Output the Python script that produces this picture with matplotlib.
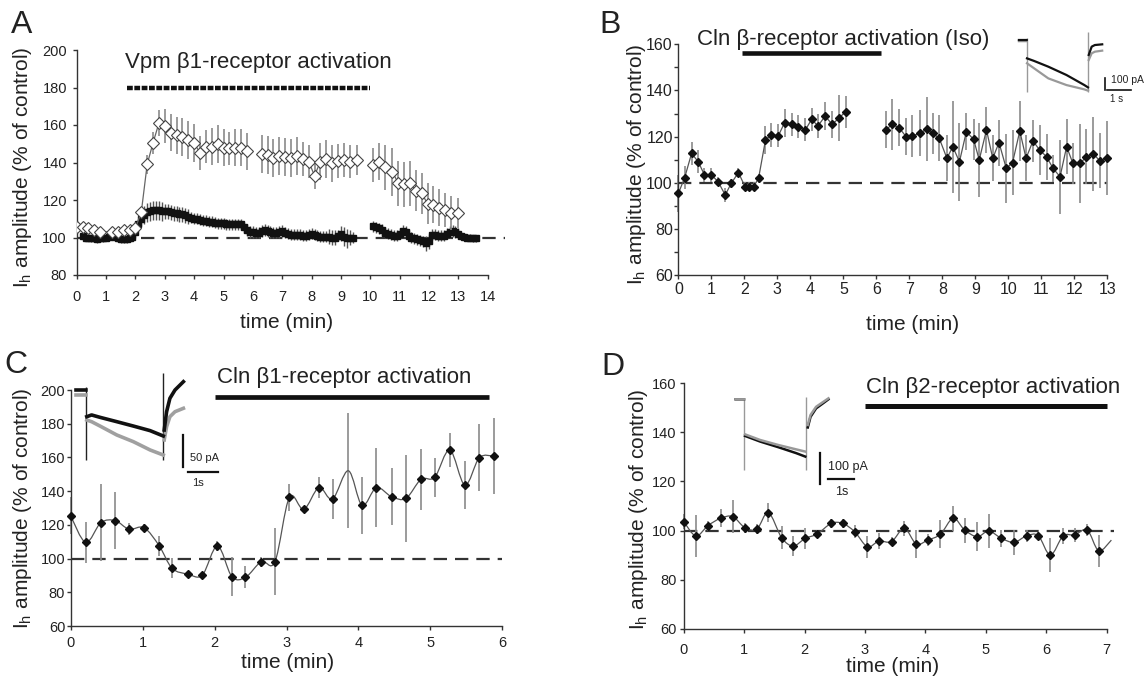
import numpy as np
import matplotlib.pyplot as plt
from matplotlib.path import Path
from matplotlib.patches import PathPatch

plt.rcParams['font.family'] = ['Liberation Sans', 'DejaVu Sans']
plt.rcParams['mathtext.fontset'] = 'custom'
plt.rcParams['mathtext.rm'] = 'Liberation Sans'
plt.rcParams['mathtext.it'] = 'Liberation Sans:italic'

W, H = 1145, 681
nan = np.nan

# ---------------- panel A : Vpm, beta1 activation ----------------
A_open_t = [0.0, 0.2, 0.4, 0.6, 0.8, 1.2, 1.4, 1.6, 1.8, 2.0, 2.2, 2.4, 2.6, 2.8, 3.0,
            3.2, 3.4, 3.6, 3.8, 4.0, 4.2, 4.4, 4.6, 4.8, 5.0, 5.2, 5.4, 5.6, 5.8, 6.05,
            6.3, 6.5, 6.7, 6.9, 7.1, 7.3, 7.5, 7.7, 7.9, 8.1, 8.3, 8.5, 8.7, 8.9, 9.1,
            9.3, 9.55, 9.8, 10.1, 10.3, 10.5, 10.75, 10.95, 11.15, 11.35, 11.55, 11.75,
            11.95, 12.15, 12.35, 12.55, 12.75, 13.0]
A_open_v = [105.5, 105.5, 105, 104, 103, 103, 103, 104, 104, 105, 113.5, 139, 150.5, 161, 159.5,
            156, 154.5, 153.5, 152, 150.5, 145, 148.5, 148.5, 150, 148, 147.5, 148, 148, 146, nan,
            144.5, 144, 142.5, 143.5, 143, 142.5, 143.5, 142, 140.5, 133, 140.5, 142, 139.5, 141, 141.5,
            140.5, 141.5, nan, 138.5, 140.5, 137.5, 135, 129, 128.5, 129, 125, 123.5,
            118, 117.5, 116, 114.5, 113, 113]
A_open_e = [1.5, 1.5, 1.5, 1.5, 1.5, 1.5, 1.5, 1.5, 1.5, 1.5, 3, 5, 6, 7, 9,
            10, 10, 10, 10, 10, 9, 9, 10, 10, 10, 9, 10, 10, 10, nan,
            10, 10, 10, 10, 10, 10, 10, 9, 9, 7, 10, 10, 10, 9, 9,
            9, 8, nan, 9, 10, 12, 13, 12, 12, 12, 11, 11,
            11, 10, 10, 9, 9, 8]

A_sq_t1 = [0.2, 0.3, 0.4, 0.5, 0.6, 0.7, 0.8, 0.9, 1.0, 1.1, 1.2, 1.3, 1.4, 1.5, 1.6, 1.7,
           1.8, 1.9, 2.0, 2.1, 2.2, 2.3, 2.4, 2.5, 2.6, 2.7, 2.8, 2.9, 3.0, 3.1, 3.2, 3.3,
           3.4, 3.5, 3.6, 3.7, 3.8, 3.9, 4.0, 4.1, 4.2, 4.3, 4.4, 4.5, 4.6, 4.7, 4.8, 4.9,
           5.0, 5.1, 5.2, 5.3, 5.4, 5.5, 5.6, 5.7, 5.8, 5.9, 6.0, 6.1, 6.2, 6.3, 6.4, 6.5,
           6.6, 6.7, 6.8, 6.9, 7.0, 7.1, 7.2, 7.3, 7.4, 7.5, 7.6, 7.7, 7.8, 7.9, 8.0, 8.1,
           8.2, 8.3, 8.4, 8.5, 8.6, 8.7, 8.8, 8.9, 9.0, 9.1, 9.2, 9.3, 9.4]
A_sq_v1 = [101, 100, 100, 99.5, 99.5, 99, 99.5, 99.5, 100, 100.5,
           101, 100.5, 99.5, 99, 99, 99, 99.5, 100.5, 103, 107,
           110, 112, 113.5, 114, 114.5, 114.5, 114.5, 114, 114, 114,
           113.5, 113, 113, 112.5, 112.5, 112, 111, 110.5, 110, 110,
           109.5, 109, 109, 108.5, 108.5, 108, 107.5, 107.5, 107.5, 107,
           107, 107, 107, 107, 107, 105.5, 104, 103, 103, 102.5,
           102.5, 103.5, 104, 103.5, 103, 102.5, 102.5, 103, 103.5, 102.5,
           102, 101.5, 101.5, 101.5, 101.5, 101, 101, 101.5, 102, 101.5,
           101, 100.5, 100.5, 100.5, 100.5, 100, 100, 101, 102, 100.5,
           99.5, 100, 100]
A_sq_e1 = [2, 2, 2, 2, 2, 2, 2, 2, 2, 2,
           2, 2, 2, 2, 2, 2, 2, 2, 3, 3,
           4, 5, 5, 5, 5, 5, 5, 5, 4, 4,
           4, 4, 4, 4, 4, 4, 4, 3, 3, 3,
           3, 3, 3, 3, 3, 3, 3, 3, 3, 3,
           3, 3, 3, 3, 3, 3, 3, 3, 3, 3,
           3, 3, 3, 3, 3, 3, 3, 3, 3, 3,
           3, 3, 3, 3, 3, 3, 3, 3, 3, 3,
           3, 3, 3, 3, 4, 4, 4, 3, 4, 5,
           5, 4, 3]
A_sq_t2 = [10.1, 10.2, 10.3, 10.4, 10.5, 10.6, 10.7, 10.8, 10.9, 11.0, 11.1, 11.2,
           11.3, 11.4, 11.5, 11.6, 11.7, 11.8, 11.9, 12.0, 12.1, 12.2, 12.3, 12.4,
           12.5, 12.6, 12.7, 12.8, 12.9, 13.0, 13.1, 13.2, 13.3, 13.4, 13.5, 13.6]
A_sq_v2 = [106, 105.5, 105, 104, 102.5, 102, 101.5, 101, 101, 102,
           103.5, 103, 101, 100, 99.5, 99, 98.5, 98, 97, 98,
           101.5, 101.5, 101, 101, 101, 102, 103, 103.5, 103, 102,
           101, 100.5, 100, 100, 99.5, 99.5]
A_sq_e2 = [3, 3, 3, 3, 3, 3, 3, 3, 3, 3,
           3, 3, 3, 3, 3, 3, 3, 3, 4, 4,
           3, 3, 3, 3, 3, 3, 3, 3, 3, 3,
           2, 2, 2, 2, 2, 2]
A_drug = (1.7, 10.0)

# ---------------- panel B : Cln, beta (Iso) ----------------
B_t = [0, 0.19, 0.4, 0.6, 0.79, 1.0, 1.2, 1.42, 1.6, 1.82, 2.02, 2.15, 2.28, 2.43, 2.64,
       2.81, 3.03, 3.22, 3.44, 3.63, 3.85, 4.04, 4.23, 4.45, 4.66, 4.86, 5.07, 5.7,
       6.3, 6.47, 6.69, 6.9, 7.09, 7.31, 7.53, 7.72, 7.91, 8.14, 8.32, 8.52, 8.73, 8.95,
       9.12, 9.34, 9.53, 9.72, 9.94, 10.13, 10.35, 10.54, 10.75, 10.95, 11.16, 11.36,
       11.57, 11.77, 11.96, 12.18, 12.37, 12.58, 12.77, 12.99]
B_v = [95.4, 102.2, 112.7, 109.1, 103.4, 103.4, 100.5, 94.7, 99.7, 104.4, 98.3, 98.3, 98.3,
       101.9, 118.5, 120.7, 120.4, 126, 125.3, 124.3, 122.9, 127.5, 124.6, 128.9, 125.3,
       127.9, 130.8, nan, 122.9, 125.3, 123.9, 120, 120.3, 121.4, 123.2, 121.4, 119.2,
       110.6, 115.6, 109.1, 122.1, 118.8, 109.9, 122.9, 110.6, 117.4, 106.2, 108.7, 122.4,
       110.6, 118.1, 114.2, 111.3, 106.2, 102.6, 115.6, 108.4, 108.4, 111.3, 112.5, 109.6,
       110.6]
B_e = [8, 5, 5, 5, 3, 3, 2, 3, 2, 2, 2, 2, 2, 2, 6, 5, 5, 6, 5, 5, 5, 5, 5, 6, 6, 10, 7, nan,
       8, 11, 8, 8, 9, 10, 14, 9, 10, 10, 20, 17, 8, 9, 16, 10, 10, 10, 15, 14, 13, 10, 9,
       11, 10, 6, 16, 12, 9, 17, 12, 16, 12, 16]
B_drug = (1.93, 6.14)

# ---------------- panel C : Cln, beta1 ----------------
C_t = [0.0, 0.21, 0.42, 0.62, 0.81, 1.02, 1.23, 1.41, 1.63, 1.83, 2.04, 2.24, 2.43, 2.65,
       2.84, 3.04, 3.24, 3.45, 3.64, 3.86, 4.05, 4.25, 4.46, 4.66, 4.87, 5.06, 5.27, 5.48,
       5.68, 5.88]
C_v = [125.3, 109.6, 121.3, 122.5, 117.4, 118.3, 107.6, 94.2, 90.8, 90.2, 107.5, 89.3, 88.9,
       98.2, 98.2, 136.3, 129.2, 142.1, 135.3, 152.1, 131.6, 142.1, 136.7, 135.7, 147, 148.2,
       164.4, 143.6, 159.8, 160.8]
C_e = [11, 12, 23, 17, 3.5, 2, 6, 6, 2, 2, 3, 11.6, 6.5, 3, 20, 8, 2, 6, 12, 34, 17, 23.5,
       17, 26, 18, 11.6, 10, 14, 20, 22.5]
C_nomark = [3.86]
C_drug = (2.01, 5.81)

# ---------------- panel D : Cln, beta2 ----------------
D_t = [0, 0.2, 0.4, 0.61, 0.81, 1.01, 1.21, 1.40, 1.62, 1.81, 2.01, 2.21, 2.44, 2.63, 2.83,
       3.04, 3.23, 3.44, 3.65, 3.85, 4.04, 4.25, 4.46, 4.65, 4.86, 5.05, 5.26, 5.47, 5.68,
       5.87, 6.07, 6.28, 6.47, 6.68, 6.87, 7.08]
D_v = [103.6, 97.8, 102, 105, 105.7, 101.2, 100.6, 107.3, 97.1, 93.7, 96.8, 98.6, 102.9,
       102.9, 99.5, 93.4, 95.7, 95.5, 100.9, 94.5, 96.1, 98.5, 105, 100.2, 97.5, 99.8, 96.8,
       95.2, 97.9, 97.9, 90, 97.8, 98.2, 100.2, 91.8, 96.1]
D_e = [3, 8.5, 2, 3.7, 6.8, 2, 2, 4, 4.8, 4, 4.4, 1.5, 2, 2, 2.7, 4.4, 3.4, 2, 3, 5.8, 2.5,
       5.8, 5.1, 5.1, 5.8, 7.1, 3.4, 5.1, 2.4, 1.7, 6.8, 3.4, 2.7, 2.4, 6.5, nan]
D_nomark = [7.08]
D_drug = (3.0, 7.0)

baseline = 100

# ---------------- current traces of the insets (s, pA) ----------------
B_tr_t = [0.0, 0.32, nan, 0.33, 0.62, 1.2, 1.94, 2.67, 2.82, nan, 2.85, 2.97, 3.1, 3.4]
B_tr_black = [0, 0, nan, -157, -179, -228, -299, -385, -405, nan, -128, -57, -43, -37]
B_tr_gray = [-10, -10, nan, -199, -242, -328, -385, -422, -433, nan, -171, -114, -100, -91]
B_art_t = [0.32, 2.82]
B_art_top = [15, 71]
B_art_bot = [-442, -442]

C_tr_t = [0.0, 0.33, nan, 0.36, 0.52, 0.8, 1.36, 1.91, 2.47, 2.91, nan, 2.94, 3.02, 3.13, 3.3, 3.58]
C_tr_black = [0, 0, nan, -41.7, -39, -42.7, -49.5, -56.3, -63.5, -71.9, nan, -62.5, -33.9, -13, 0, 13]
C_tr_gray = [-7.8, -7.8, nan, -46.9, -49.5, -56.3, -70.3, -80.7, -93.7, -101.6, nan, -78, -57.3,
             -41.7, -33.9, -28.6]
C_art_t = [0.33, 2.91]
C_art_top = [5, 26]
C_art_bot = [-109, -109]

D_tr_t = [0.0, 0.33, nan, 0.37, 0.97, 1.69, 2.4, 2.76, nan, 2.86, 2.97, 3.19, 3.48, 3.68]
D_tr_black = [0, 0, nan, -117, -135, -153, -172, -183, nan, -90, -56, -29, -12, 0]
D_tr_gray = [0, 0, nan, -112, -130, -146, -160, -167, nan, -82, -50, -24, -8, 3]
D_art_t = [0.33, 2.8]
D_art_top = [0, 8]
D_art_bot = [-226, -226]

ylab = r'I$_{\mathregular{h}}$ amplitude (% of control)'

fig = plt.figure(figsize=(W / 100, H / 100), dpi=100)


def px_box(l, t, r, b):
    return [l / W, 1 - b / H, (r - l) / W, (b - t) / H]


def fxy(x, y):
    return x / W, 1 - y / H


def main_axes(box, xlim, ylim, xmax_tick, yticks, tsize, xpad, ypad, xlab_xy, ylab_xy):
    ax = fig.add_axes(px_box(*box))
    ax.set_xlim(*xlim)
    ax.set_ylim(*ylim)
    for s in ['top', 'right']:
        ax.spines[s].set_visible(False)
    for s in ['left', 'bottom']:
        ax.spines[s].set_color('#333')
        ax.spines[s].set_linewidth(1.0)
    ax.spines['bottom'].set_bounds(0, xmax_tick)
    ax.set_xticks(range(0, xmax_tick + 1))
    ax.set_yticks(yticks)
    ax.tick_params(direction='out', length=3, width=1, color='#333',
                   labelsize=tsize, labelcolor='#222')
    ax.tick_params(axis='x', pad=xpad)
    ax.tick_params(axis='y', pad=ypad)
    ax.set_xlabel('time (min)', fontsize=15, color='#222')
    ax.set_ylabel(ylab, fontsize=15, color='#222')
    ax.xaxis.set_label_coords(*fxy(*xlab_xy), transform=fig.transFigure)
    ax.yaxis.set_label_coords(*fxy(*ylab_xy), transform=fig.transFigure)
    ax.axhline(baseline, color='#333', lw=1.6, ls=(0, (6, 3.6)), zorder=1)
    return ax


def smooth_line(ax, t, v, **kw):
    # Excel-like smoothed connector: cubic Bezier through every point
    p = np.column_stack([t, v])
    verts = [p[0]]
    codes = [Path.MOVETO]
    n = len(p)
    for i in range(n - 1):
        p0 = p[i - 1] if i > 0 else p[i]
        p3 = p[i + 2] if i + 2 < n else p[i + 1]
        c1 = p[i] + (p[i + 1] - p0) / 6
        c2 = p[i + 1] - (p3 - p[i]) / 6
        verts += [c1, c2, p[i + 1]]
        codes += [Path.CURVE4] * 3
    ax.add_patch(PathPatch(Path(verts, codes), fill=False, **kw))


def filled_series(ax, t, v, e, nomark=(), smooth=False):
    ax.errorbar(t, v, yerr=e, fmt='none', ecolor='#8a8a8a', elinewidth=1.2,
                capsize=0, zorder=2, clip_on=False)
    if smooth:
        smooth_line(ax, t, v, edgecolor='#555', lw=0.9, zorder=3, clip_on=False)
    else:
        ax.plot(t, v, color='#555', lw=0.9, zorder=3, clip_on=False)
    keep = [i for i in range(len(t)) if t[i] not in nomark]
    ax.plot(np.array(t)[keep], np.array(v)[keep], 'D', ms=4, color='#111',
            zorder=4, clip_on=False)


def inset(box, t0_px, i0_px, px_s, px_pa):
    l, t, r, b = box
    ax = fig.add_axes(px_box(l, t, r, b))
    ax.set_xlim((l - t0_px) / px_s, (r - t0_px) / px_s)
    ax.set_ylim((i0_px - b) / px_pa, (i0_px - t) / px_pa)
    ax.axis('off')
    return ax


# ---------------- A ----------------
axA = main_axes((76.7, 50, 505.4, 275), (0, 14.6), (80, 200), 14, range(80, 201, 20),
                10.5, 7.8, 4, (287, 313), (34, 167))
axA.errorbar(A_sq_t1, A_sq_v1, yerr=A_sq_e1, fmt='none', ecolor='#555', elinewidth=1.0,
             capsize=0, zorder=2)
axA.errorbar(A_sq_t2, A_sq_v2, yerr=A_sq_e2, fmt='none', ecolor='#555', elinewidth=1.0,
             capsize=0, zorder=2)
axA.plot(A_sq_t1, A_sq_v1, 's', ms=3.8, color='#111', zorder=3)
axA.plot(A_sq_t2, A_sq_v2, 's', ms=3.8, color='#111', zorder=3)
axA.errorbar(A_open_t, A_open_v, yerr=A_open_e, fmt='none', ecolor='#8a8a8a',
             elinewidth=1.2, capsize=0, zorder=4)
axA.plot(A_open_t, A_open_v, color='#666', lw=0.9, zorder=5)
axA.plot(A_open_t, A_open_v, 'D', ms=6, mfc='white', mec='#444', mew=0.8, zorder=6)
axA.hlines(180, *A_drug, color='#111', lw=3.2, linestyles=(0, (1.3, 0.35)))
fig.text(*fxy(125, 68), 'Vpm β1-receptor activation', fontsize=16, va='baseline',
         color='#222')
fig.text(*fxy(11, 33), 'A', fontsize=23, va='baseline', color='#222')

# ---------------- B ----------------
axB = main_axes((678.4, 44.3, 1107.2, 275), (0, 13), (60, 160), 13, range(60, 161, 20),
                11.5, 2, 1, (913, 315), (648, 164))
axB.set_yticks(range(60, 161, 10), minor=True)
axB.tick_params(axis='y', which='minor', direction='out', length=3, width=1, color='#333')
filled_series(axB, B_t, B_v, B_e)
axB.hlines(156.4, *B_drug, color='#111', lw=3.3)
fig.text(*fxy(697, 45), 'Cln β-receptor activation (Iso)', fontsize=16, va='baseline',
         color='#222')
fig.text(*fxy(599, 33), 'B', fontsize=23, va='baseline', color='#222')

# ---------------- C ----------------
axC = main_axes((70.7, 390, 502.3, 626), (0, 6), (60, 200), 6, range(60, 201, 20),
                10.5, 4.2, 1, (288, 653), (34, 508))
filled_series(axC, C_t, C_v, C_e, C_nomark, smooth=True)
axC.hlines(196, *C_drug, color='#111', lw=3.4)
fig.text(*fxy(217, 383), 'Cln β1-receptor activation', fontsize=16, va='baseline',
         color='#222')
fig.text(*fxy(4, 373), 'C', fontsize=23, va='baseline', color='#222')

# ---------------- D ----------------
axD = main_axes((683.8, 383.3, 1113.8, 628.7), (0, 7.12), (60, 160), 7, range(60, 161, 20),
                10.5, 7.0, 2, (893, 657), (650, 509))
filled_series(axD, D_t, D_v, D_e, D_nomark, smooth=True)
axD.hlines(150.9, *D_drug, color='#111', lw=3.6)
fig.text(*fxy(866, 393), 'Cln β2-receptor activation', fontsize=16, va='baseline',
         color='#222')
fig.text(*fxy(601, 375), 'D', fontsize=23, va='baseline', color='#222')

# ---------------- insets ----------------
inB = inset((1010, 25, 1145, 105), 1018.9, 40, 24.5, 0.117)
inB.vlines(B_art_t, B_art_bot, B_art_top, color='#999', lw=1.0)
inB.plot(B_tr_t, B_tr_gray, color='#999', lw=1.6)
inB.plot(B_tr_t, B_tr_black, color='#111', lw=1.6)
inB.plot([3.53, 3.53], [-327, -427], color='#111', lw=1.2)
inB.plot([3.59, 4.59], [-427, -427], color='#111', lw=1.2)
inB.text(3.75, -342, '100 pA', fontsize=7.5, va='center', ha='left', color='#222')
inB.text(4.0, -505, '1 s', fontsize=7, va='center', ha='center', color='#222')

inC = inset((70, 362, 225, 495), 76, 390, 30, 0.64)
inC.vlines(C_art_t, C_art_bot, C_art_top, color='#222', lw=1.0)
inC.plot(C_tr_t, C_tr_gray, color='#a0a0a0', lw=2.6)
inC.plot(C_tr_t, C_tr_black, color='#111', lw=2.6)
inC.plot([3.56, 3.56], [-70.3, -120.3], color='#111', lw=1.6)
inC.plot([3.73, 4.73], [-127.7, -127.7], color='#111', lw=1.6)
inC.text(3.8, -106, '50 pA', fontsize=8, va='center', ha='left', color='#222')
inC.text(3.87, -145, '1s', fontsize=8, va='center', ha='left', color='#222')

inD = inset((725, 386, 870, 500), 735.7, 399.3, 25.2, 0.313)
inD.vlines(D_art_t, D_art_bot, D_art_top, color='#999', lw=1.0)
inD.plot(D_tr_t, D_tr_black, color='#111', lw=1.8)
inD.plot(D_tr_t, D_tr_gray, color='#999', lw=1.8)
inD.plot([3.36, 3.36], [-171, -271], color='#111', lw=1.6)
inD.plot([3.68, 4.68], [-256, -256], color='#111', lw=1.6)
inD.text(3.66, -215, '100 pA', fontsize=9, va='center', ha='left', color='#222')
inD.text(4.19, -295, '1s', fontsize=9, va='center', ha='center', color='#222')

fig.savefig('out.png', dpi=100)
